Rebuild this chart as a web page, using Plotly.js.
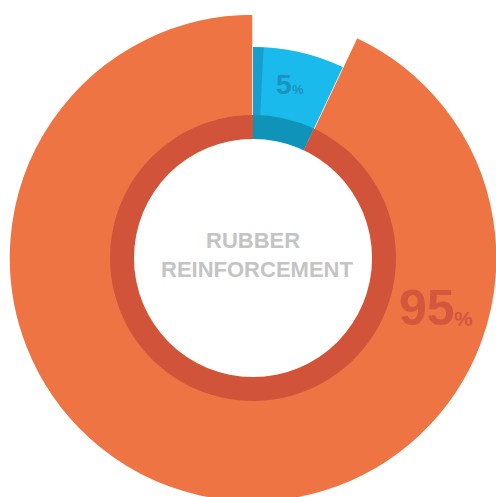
<!DOCTYPE html>
<html>
<head>
<meta charset="utf-8">
<script src="https://cdn.plot.ly/plotly-3.0.1.min.js"></script>
<style>
html,body{margin:0;padding:0;background:#fff;overflow:hidden;width:496px;height:497px;}
#chart{width:506px;height:516px;}
</style>
</head>
<body>
<div id="chart"></div>
<script>
// Data
var categories = ["Other", "Rubber reinforcement"];
var printedPercents = [5, 95];          // numbers printed on the chart
var drawnShares = [7, 93];              // slice sizes as drawn (blue ≈ 25°)
var shadowShares = [0.8, 99.2];         // thin shadow strip at the start of the blue slice
var centerTitle = ["RUBBER", "REINFORCEMENT"];

var W = 506, H = 516;
function dom(r) {
  return {x: [0.5 - r / W, 0.5 + r / W], y: [0.5 - r / H, 0.5 + r / H]};
}
var common = {
  type: "pie", sort: false, direction: "clockwise", rotation: 0,
  textinfo: "none", hoverinfo: "none", showlegend: false
};
var T = "rgba(0,0,0,0)";
var traces = [
  Object.assign({}, common, {
    labels: categories, values: drawnShares, domain: dom(244),
    marker: {colors: [T, "#ef7443"], line: {color: "#ffffff", width: 1.5}}
  }),
  Object.assign({}, common, {
    labels: categories, values: drawnShares, domain: dom(211),
    marker: {colors: ["#1bbaec", T], line: {width: 0}}
  }),
  Object.assign({}, common, {
    labels: ["shadow", "rest"], values: shadowShares, domain: dom(211),
    marker: {colors: ["rgba(10,110,150,0.35)", T], line: {width: 0}}
  }),
  Object.assign({}, common, {
    labels: categories, values: drawnShares, domain: dom(143), hole: 119 / 143,
    marker: {colors: ["#0f93b9", "#d1543a"], line: {width: 0}}
  }),
  Object.assign({}, common, {
    labels: ["centre"], values: [1], domain: dom(119),
    marker: {colors: ["#ffffff"], line: {width: 0}}
  })
];

var font = "'Liberation Sans', Arial, Helvetica, sans-serif";
function ann(x, y, text, size, color, xanchor) {
  return {xref: "paper", yref: "paper", x: x / W, y: 1 - y / H, showarrow: false,
          xanchor: xanchor || "center", yanchor: "middle", borderpad: 0, borderwidth: 0,
          text: "<b>" + text + "</b>", font: {family: font, size: size, color: color}};
}
var layout = {
  width: W, height: H,
  margin: {l: 0, r: 0, t: 0, b: 0},
  paper_bgcolor: "#ffffff",
  showlegend: false,
  annotations: [
    ann(292, 85, String(printedPercents[0]), 28, "#1794c0", "right"),
    ann(292, 90, "%", 13, "#1794c0", "left"),
    ann(455, 308, String(printedPercents[1]), 50, "#d4563d", "right"),
    ann(454, 318, "%", 21, "#d4563d", "left"),
    ann(253, 241, centerTitle[0], 22, "#c4c4c4"),
    ann(257, 269, centerTitle[1], 22, "#c4c4c4")
  ]
};
Plotly.newPlot("chart", traces, layout, {displayModeBar: false, staticPlot: true});
</script>
</body>
</html>
